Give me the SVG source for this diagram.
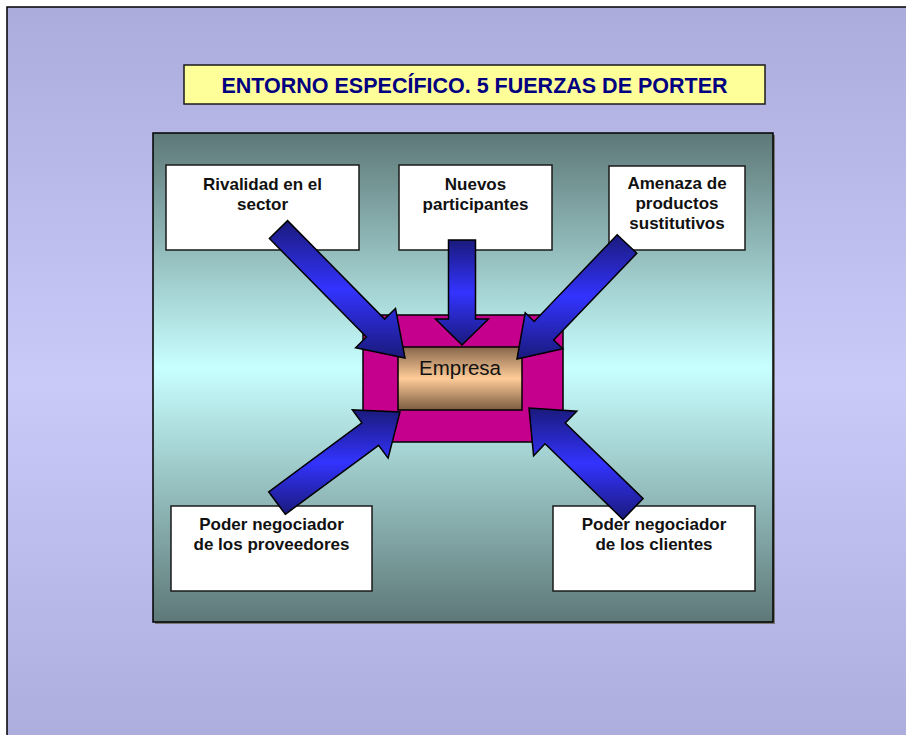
<svg xmlns="http://www.w3.org/2000/svg" width="906" height="735" viewBox="0 0 906 735">
<defs>
<linearGradient id="bg" x1="0" y1="0" x2="0" y2="1">
<stop offset="0" stop-color="#acacdc"/><stop offset="0.5" stop-color="#cacaf9"/><stop offset="1" stop-color="#acacdc"/>
</linearGradient>
<linearGradient id="panel" x1="0" y1="0" x2="0" y2="1">
<stop offset="0" stop-color="#5e7878"/><stop offset="0.48" stop-color="#c8ffff"/><stop offset="1" stop-color="#5e7878"/>
</linearGradient>
<linearGradient id="emp" x1="0" y1="0" x2="0" y2="1">
<stop offset="0" stop-color="#86664a"/><stop offset="0.5" stop-color="#ffcc99"/><stop offset="1" stop-color="#7a5c40"/>
</linearGradient>
<linearGradient id="arr" x1="0" y1="0" x2="0" y2="1">
<stop offset="0" stop-color="#1a1a7c"/><stop offset="0.5" stop-color="#3333ff"/><stop offset="1" stop-color="#1a1a7c"/>
</linearGradient>
<style>
.box{fill:#ffffff;stroke:#1a1a1a;stroke-width:1.5}
.lbl{font-family:"Liberation Sans",Arial,sans-serif;font-weight:bold;font-size:17px;fill:#111111;text-anchor:middle}
.arrow{fill:url(#arr);stroke:#000000;stroke-width:1.5;stroke-linejoin:miter}
</style>
</defs>
<rect x="0" y="0" width="906" height="735" fill="#ffffff"/>
<rect x="7" y="7" width="920" height="750" fill="url(#bg)" stroke="#000000" stroke-width="1.5"/>
<g id="title">
<rect x="184" y="65" width="581" height="39" fill="#ffff99" stroke="#1a1a1a" stroke-width="1.5"/>
<text x="474.5" y="93" font-family="Liberation Sans, Arial, sans-serif" font-weight="bold" font-size="21.5" fill="#000080" text-anchor="middle">ENTORNO ESPECÍFICO. 5 FUERZAS DE PORTER</text>
</g>
<g id="panel-bg">
<rect x="155" y="135" width="620" height="489" fill="#777777"/>
<rect x="153" y="133" width="620" height="489" fill="url(#panel)" stroke="#000000" stroke-width="1.5"/>
</g>
<g id="rivalidad">
<rect class="box" x="166" y="165" width="193" height="85"/>
<text class="lbl" x="262.5" y="190">Rivalidad en el</text>
<text class="lbl" x="262.5" y="210">sector</text>
</g>
<g id="nuevos">
<rect class="box" x="399" y="165" width="153" height="85"/>
<text class="lbl" x="475.5" y="190">Nuevos</text>
<text class="lbl" x="475.5" y="210">participantes</text>
</g>
<g id="amenaza">
<rect class="box" x="609" y="166" width="136" height="84"/>
<text class="lbl" x="677" y="189">Amenaza de</text>
<text class="lbl" x="677" y="209">productos</text>
<text class="lbl" x="677" y="229">sustitutivos</text>
</g>
<g id="proveedores">
<rect class="box" x="171" y="506" width="201" height="85"/>
<text class="lbl" x="271.5" y="530">Poder negociador</text>
<text class="lbl" x="271.5" y="550">de los proveedores</text>
</g>
<g id="clientes">
<rect class="box" x="553" y="506" width="202" height="85"/>
<text class="lbl" x="654" y="530">Poder negociador</text>
<text class="lbl" x="654" y="550">de los clientes</text>
</g>
<g id="empresa">
<rect x="363" y="315" width="200" height="127" fill="#c4008c" stroke="#000000" stroke-width="1.5"/>
<rect x="398" y="347" width="124" height="63" fill="url(#emp)" stroke="#000000" stroke-width="1.5"/>
<text x="460" y="375" font-family="Liberation Sans, Arial, sans-serif" font-size="20.5" fill="#111111" text-anchor="middle">Empresa</text>
</g>
<g id="connectors">
<path class="arrow" d="M269.4,238.5 L366.4,337 L355.6,347.7 L405,358 L395.5,308.4 L384.6,319.1 L287.6,220.6 Z"/>
<path class="arrow" d="M448.5,240 L448.5,319 L435.5,319 L462,345 L488.5,319 L475.5,319 L475.5,240 Z"/>
<path class="arrow" d="M617.2,234.7 L534.2,321.5 L525.2,312.8 L517,359 L562.8,348.8 L553.7,340.1 L636.8,253.3 Z"/>
<path class="arrow" d="M285.3,514.3 L378.6,445.3 L388.1,458.1 L400,412 L352.4,409.9 L361.9,422.8 L268.7,491.8 Z"/>
<path class="arrow" d="M643.1,498.6 L565.3,423 L576.8,411.2 L529,408 L533.6,455.7 L545.1,443.8 L622.9,519.4 Z"/>
</g>
</svg>
